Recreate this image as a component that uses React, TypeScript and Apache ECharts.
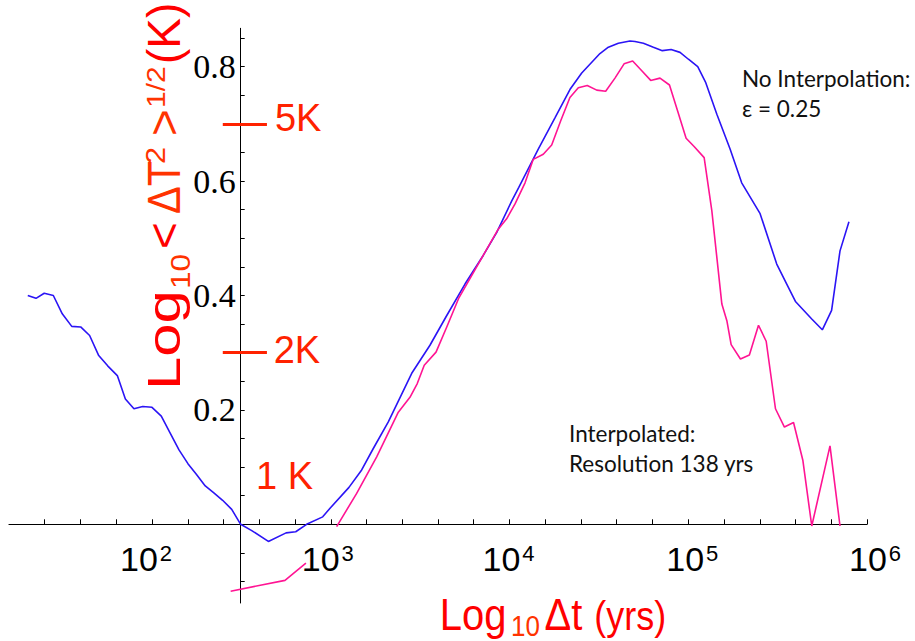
import React, { useEffect, useRef } from "react";
import * as echarts from "echarts";

// log10(Δt) and log10 <ΔT²>^1/2
const blueLogT = [1.305, 1.351, 1.397, 1.448, 1.498, 1.551, 1.601, 1.651, 1.702, 1.752, 1.806, 1.851, 1.899, 1.948, 2.0, 2.052, 2.101, 2.151, 2.201, 2.249, 2.298, 2.346, 2.395, 2.446, 2.496, 2.558, 2.651, 2.75, 2.804, 2.865, 2.955, 2.996, 3.102, 3.173, 3.238, 3.322, 3.453, 3.555, 3.649, 3.751, 3.853, 3.928, 4.012, 4.052, 4.161, 4.255, 4.338, 4.404, 4.506, 4.553, 4.609, 4.674, 4.702, 4.749, 4.805, 4.855, 4.904, 4.954, 5.001, 5.053, 5.098, 5.16, 5.234, 5.299, 5.402, 5.495, 5.551, 5.601, 5.691, 5.75, 5.802, 5.849, 5.899];
const blueLogDT = [0.4, 0.395, 0.404, 0.4, 0.368, 0.346, 0.345, 0.33, 0.295, 0.277, 0.26, 0.219, 0.202, 0.206, 0.2045, 0.189, 0.16, 0.13, 0.106, 0.087, 0.067, 0.055, 0.042, 0.026, 0.0, -0.011, -0.03, -0.015, -0.013, 0.0, 0.013, 0.028, 0.0645, 0.095, 0.1325, 0.179, 0.264, 0.313, 0.365, 0.42, 0.47, 0.51, 0.565, 0.589, 0.656, 0.711, 0.76, 0.789, 0.823, 0.834, 0.841, 0.845, 0.844, 0.841, 0.834, 0.828, 0.83, 0.825, 0.813, 0.8, 0.772, 0.717, 0.656, 0.597, 0.543, 0.455, 0.42, 0.389, 0.359, 0.34, 0.374, 0.478, 0.529];

const pinkLogT = [2.44, 2.744, 2.861, 2.95, 3.033, 3.145, 3.257, 3.378, 3.443, 3.484, 3.523, 3.589, 3.649, 3.717, 3.761, 3.873, 3.937, 3.984, 4.031, 4.087, 4.133, 4.189, 4.236, 4.286, 4.338, 4.385, 4.435, 4.488, 4.538, 4.59, 4.641, 4.689, 4.74, 4.79, 4.842, 4.895, 4.941, 4.988, 5.034, 5.089, 5.132, 5.188, 5.216, 5.24, 5.292, 5.342, 5.393, 5.436, 5.488, 5.538, 5.589, 5.641, 5.691, 5.793, 5.849];
const pinkLogDT = [-0.117, -0.098, -0.068, null, -0.004, 0.054, 0.118, 0.196, 0.222, 0.246, 0.278, 0.301, 0.345, 0.396, 0.42, 0.481, 0.516, 0.534, 0.56, 0.597, 0.638, 0.647, 0.663, 0.705, 0.746, 0.763, 0.767, 0.759, 0.757, 0.78, 0.805, 0.81, 0.793, 0.776, 0.78, 0.768, 0.722, 0.675, 0.66, 0.641, 0.548, 0.385, 0.356, 0.314, 0.289, 0.296, 0.348, 0.32, 0.202, 0.17, 0.178, 0.112, -0.003, 0.137, -0.003];

const xTickValues = [1.4, 1.6, 1.8, 2.0, 2.2, 2.4, 2.6, 2.8, 3.0, 3.2, 3.4, 3.6, 3.8, 4.0, 4.2, 4.4, 4.6, 4.8, 5.0, 5.2, 5.4, 5.6, 5.8, 6.0];
const xLabelValues = [2, 3, 4, 5, 6];
const yTickValues = [-0.1, -0.05, 0, 0.05, 0.1, 0.15, 0.2, 0.25, 0.3, 0.35, 0.4, 0.45, 0.5, 0.55, 0.6, 0.65, 0.7, 0.75, 0.8, 0.85];
const yLabelValues = [0.2, 0.4, 0.6, 0.8];

// reference temperatures (K) marked on the y axis
const kelvinMarks = ["5K", "2K"];
const kelvinValues = [5, 2];

const RED = "#ff0000";
const ORANGE = "#ff3300";

const Y_MIN = -0.1376;
const Y_MAX = 0.8671;
const GRID_TOP = 28.3;
const GRID_BOTTOM = 38;
const PAGE_H = 641;

// horizontal nudge of each power-of-ten label in the reference (px)
const labelShift: Record<number, number> = { 2: -6, 3: -3, 4: -1, 5: 4, 6: 8 };

export default function App() {
  const ref = useRef<HTMLDivElement>(null);
  useEffect(() => {
    const chart = echarts.init(ref.current!, null, { renderer: "svg" });
    const blue = blueLogT.map((x, i) => [x, blueLogDT[i]]);
    const pink = pinkLogT.map((x, i) => [x, pinkLogDT[i] === null ? NaN : pinkLogDT[i]]);

    const gridH = PAGE_H - GRID_TOP - GRID_BOTTOM;
    const zeroFromBottom = (-Y_MIN / (Y_MAX - Y_MIN)) * gridH;

    const rich: Record<string, any> = {};
    xLabelValues.forEach((p) => {
      const d = labelShift[p];
      rich["a" + p] = { fontFamily: "Liberation Sans", fontSize: 34, color: "#000", padding: [0, 0, 0, d > 0 ? 2 * d : 0] };
      rich["s" + p] = {
        fontFamily: "Liberation Sans",
        fontSize: 22,
        color: "#000",
        verticalAlign: "top",
        padding: [0, d < 0 ? -2 * d : 0, 0, 2],
      };
    });

    const yPiece = (text: string, start: number, cx: number, size: number, color: string, sx: number) => ({
      type: "text",
      x: cx,
      y: start,
      rotation: Math.PI / 2,
      scaleX: sx,
      style: { text, fontFamily: "Liberation Sans", fontSize: size, fill: color, align: "left", verticalAlign: "middle" },
    });
    const xPiece = (text: string, left: number, cy: number, size: number, color: string) => ({
      type: "text",
      x: left,
      y: cy,
      scaleY: 1.12,
      style: { text, fontFamily: "Liberation Sans", fontSize: size, fill: color, align: "left", verticalAlign: "middle" },
    });

    const kLabel = { show: true, position: "inside", align: "left", formatter: "{b}", color: "#ff2200", fontFamily: "Liberation Sans", fontSize: 38 };

    chart.setOption({
      animation: false,
      grid: { left: 9, right: 48, top: GRID_TOP, bottom: GRID_BOTTOM, containLabel: false, outerBoundsMode: "none" },
      xAxis: {
        type: "value",
        min: 1.2,
        max: 6.0,
        interval: 0.2,
        offset: -zeroFromBottom,
        splitLine: { show: false },
        axisLine: { onZero: false, lineStyle: { color: "#000", width: 1.2 } },
        axisTick: { inside: true, length: 5, customValues: xTickValues, lineStyle: { color: "#000", width: 1 } },
        axisLabel: {
          customValues: xLabelValues,
          margin: 18,
          fontFamily: "Liberation Sans",
          fontSize: 34,
          color: "#000",
          formatter: (v: number) => {
            const r = Math.round(v);
            if (Math.abs(v - r) > 1e-6) return "";
            return `{a${r}|10}{s${r}|${r}}`;
          },
          rich,
        },
      },
      yAxis: {
        type: "value",
        min: Y_MIN,
        max: Y_MAX,
        offset: -231.7,
        splitLine: { show: false },
        axisLine: { show: true, onZero: false, lineStyle: { color: "#000", width: 1 } },
        axisTick: { show: true, inside: true, length: 4, customValues: yTickValues, lineStyle: { color: "#000" } },
        axisLabel: {
          customValues: yLabelValues,
          margin: 5,
          fontFamily: "Liberation Serif",
          fontSize: 34,
          color: "#000",
          formatter: (v: number) => (yLabelValues.some((t) => Math.abs(t - v) < 1e-6) ? v.toFixed(1) : ""),
        },
      },
      series: [
        {
          type: "line",
          data: blue,
          showSymbol: false,
          lineStyle: { color: "#2b14f5", width: 1.6 },
          markLine: {
            silent: true,
            symbol: "none",
            lineStyle: { color: "#ff2200", width: 3, type: "solid" },
            label: { show: false },
            data: kelvinMarks.map((name, i) => [
              { name, coord: [2.396, Math.log10(kelvinValues[i])] },
              { coord: [2.643, Math.log10(kelvinValues[i])] },
            ]),
          },
          markPoint: {
            silent: true,
            symbol: "circle",
            symbolSize: 1,
            itemStyle: { color: "rgba(0,0,0,0)" },
            label: kLabel,
            data: [
              { name: "5K", coord: [2.688, 0.711] },
              { name: "2K", coord: [2.681, 0.304] },
              { name: "1 K", coord: [2.582, 0.0844] },
            ],
          },
        },
        {
          type: "line",
          data: pink,
          showSymbol: false,
          connectNulls: false,
          lineStyle: { color: "#ff1493", width: 1.6 },
        },
      ],
      graphic: [
        // y-axis title, reading bottom to top
        yPiece("Log", 390, 164, 46, RED, 1.3),
        yPiece("10", 289, 180.3, 28, ORANGE, 1.13),
        yPiece("<", 249, 164, 46, RED, 1),
        yPiece("ΔT", 214, 164, 46, ORANGE, 0.9),
        yPiece("2", 164, 155.3, 28, ORANGE, 1.1),
        yPiece(">", 136, 164, 46, ORANGE, 1),
        yPiece("1/2", 108, 156.3, 25, ORANGE, 1.2),
        yPiece("(K)", 64, 164, 46, RED, 1.0),
        // x-axis title
        xPiece("Log", 439.8, 614.5, 40, RED),
        xPiece("10", 511, 625.5, 26, ORANGE),
        xPiece("Δt", 544.5, 614.5, 40, RED),
        xPiece("(yrs)", 594.2, 616, 36, RED),
        // annotations
        {
          type: "text",
          x: 742,
          y: 64,
          style: { text: "No Interpolation:\nε = 0.25", fontFamily: "Lato", fontSize: 22.5, lineHeight: 29.4, fill: "#111", align: "left", verticalAlign: "top" },
        },
        {
          type: "text",
          x: 569,
          y: 419,
          style: { text: "Interpolated:\nResolution 138 yrs", fontFamily: "Lato", fontSize: 22.5, lineHeight: 29.4, fill: "#111", align: "left", verticalAlign: "top" },
        },
      ],
    });
    return () => chart.dispose();
  }, []);
  return <div ref={ref} style={{ position: "absolute", left: 0, top: 0, width: 915, height: 641 }} />;
}
